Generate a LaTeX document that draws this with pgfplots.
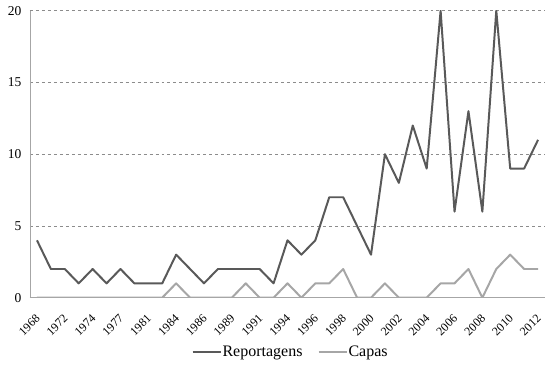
\documentclass[border=0pt]{standalone}
\usepackage{pgfplots}
\pgfplotsset{compat=1.18}
\usepackage{fontspec}
\setmainfont{Liberation Serif}
\definecolor{darkline}{HTML}{595959}
\definecolor{lightline}{HTML}{A6A6A6}
\definecolor{axcol}{HTML}{A6A6A6}
\definecolor{gridcol}{HTML}{8C8C8C}
\begin{document}
\begin{tikzpicture}
\useasboundingbox (-30bp,-73.3bp) rectangle (522bp,297.7bp);
\begin{axis}[
  at={(0,0)}, anchor=south west,
  scale only axis,
  width=515bp, height=287bp,
  xmin=-0.5, xmax=36.5,
  ymin=0, ymax=20,
  ytick={0,5,10,15,20},
  xtick={0,2,...,36},
  xticklabels={1968,1972,1974,1977,1981,1984,1986,1989,1991,1994,1996,1998,2000,2002,2004,2006,2008,2010,2012},
  axis x line*=bottom, axis y line*=left,
  axis line style={axcol, line width=1pt, -},
  major tick length=0pt,
  ymajorgrids,
  grid style={gridcol, dashed, line width=0.6pt},
  /pgf/number format/assume math mode=true,
  yticklabel style={xshift=-5bp, font=\fontsize{13.5bp}{15bp}\selectfont},
  xticklabel style={font=\fontsize{12bp}{14bp}\selectfont, anchor=north east, xshift=-2bp, yshift=-11bp, rotate=45},
  legend style={draw=none, at={(0.505,-0.189)}, anchor=center, legend columns=2,
     font=\fontsize{16bp}{18bp}\selectfont, nodes={inner xsep=1bp},
     /tikz/every even column/.append style={column sep=14bp}},
  legend image code/.code={\draw[#1] (0,0) -- (28bp,0);},
]
\addplot[darkline, line width=2pt, line join=round] coordinates {
(0,4)(1,2)(2,2)(3,1)(4,2)(5,1)(6,2)(7,1)(8,1)(9,1)(10,3)(11,2)(12,1)(13,2)(14,2)(15,2)(16,2)(17,1)
(18,4)(19,3)(20,4)(21,7)(22,7)(23,5)(24,3)(25,10)(26,8)(27,12)(28,9)(29,20)(30,6)(31,13)(32,6)(33,20)(34,9)(35,9)(36,11)};
\addlegendentry{Reportagens}
\addplot[lightline, line width=2pt, line join=round] coordinates {
(0,0)(1,0)(2,0)(3,0)(4,0)(5,0)(6,0)(7,0)(8,0)(9,0)(10,1)(11,0)(12,0)(13,0)(14,0)(15,1)(16,0)(17,0)
(18,1)(19,0)(20,1)(21,1)(22,2)(23,0)(24,0)(25,1)(26,0)(27,0)(28,0)(29,1)(30,1)(31,2)(32,0)(33,2)(34,3)(35,2)(36,2)};
\addlegendentry{Capas}
\end{axis}
\end{tikzpicture}
\end{document}
